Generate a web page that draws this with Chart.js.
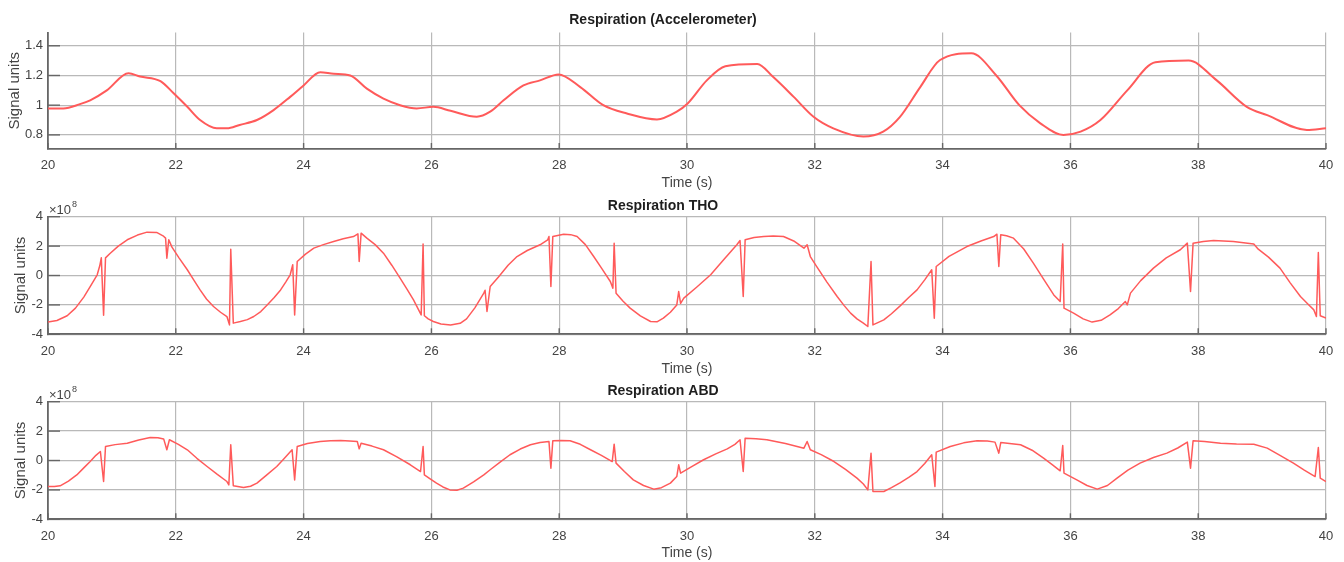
<!DOCTYPE html>
<html><head><meta charset="utf-8">
<script src="https://cdn.jsdelivr.net/npm/chart.js@4.4.1/dist/chart.umd.min.js"></script>
<style>
html,body{margin:0;padding:0;background:#fff;width:1344px;height:562px;overflow:hidden;}
canvas{position:absolute;left:0;}
</style></head><body>
<canvas id="c1" width="1344" height="192" style="top:0px"></canvas>
<canvas id="c2" width="1344" height="186" style="top:192px"></canvas>
<canvas id="c3" width="1344" height="184" style="top:378px"></canvas>
<script>
// ---------- data ----------
const xTicks = [20, 22, 24, 26, 28, 30, 32, 34, 36, 38, 40];
const accTicks = [0.8, 1, 1.2, 1.4];
const respTicks = [-4, -2, 0, 2, 4];

// Accelerometer: [time (s), signal]
const accSeries = [[20,0.978],[20.24,0.978],[20.5,1.007],[20.66,1.033],[20.92,1.1],[21.26,1.215],[21.44,1.193],[21.76,1.162],[21.97,1.078],[22.18,0.989],[22.38,0.9],[22.64,0.844],[22.8,0.844],[23.0,0.867],[23.27,0.9],[23.53,0.967],[23.79,1.056],[24.0,1.133],[24.26,1.222],[24.47,1.211],[24.73,1.2],[24.99,1.111],[25.25,1.044],[25.51,1.0],[25.77,0.978],[26.03,0.989],[26.3,0.962],[26.71,0.922],[26.92,0.956],[27.13,1.033],[27.44,1.133],[27.7,1.167],[27.99,1.207],[28.33,1.122],[28.69,1.0],[29.06,0.944],[29.53,0.904],[29.84,0.956],[30.01,1.011],[30.31,1.167],[30.6,1.262],[31.1,1.278],[31.35,1.189],[31.67,1.056],[31.98,0.922],[32.29,0.844],[32.76,0.789],[33.07,0.822],[33.33,0.92],[33.65,1.122],[33.96,1.304],[34.45,1.349],[34.84,1.2],[35.2,1.0],[35.53,0.878],[35.89,0.8],[36.16,0.822],[36.47,0.9],[36.89,1.1],[37.33,1.289],[37.85,1.3],[38.29,1.167],[38.76,0.989],[39.08,0.933],[39.7,0.833],[40,0.844]];

// THO: [time (s), signal x1e8]
const thoSeries = [[20,-3.17],[20.14,-3.06],[20.3,-2.74],[20.43,-2.22],[20.56,-1.47],[20.66,-0.75],[20.77,0.05],[20.81,0.66],[20.834,1.2],[20.87,-2.7],[20.9,1.2],[20.97,1.5],[21.1,2.0],[21.24,2.43],[21.4,2.75],[21.55,2.95],[21.7,2.93],[21.8,2.7],[21.84,2.54],[21.86,1.18],[21.89,2.43],[21.94,1.93],[22.05,1.2],[22.18,0.39],[22.28,-0.3],[22.38,-0.98],[22.48,-1.6],[22.59,-2.11],[22.7,-2.5],[22.8,-2.79],[22.84,-3.36],[22.86,1.79],[22.9,-3.24],[23.01,-3.13],[23.12,-3.0],[23.22,-2.79],[23.33,-2.45],[23.43,-2.0],[23.54,-1.5],[23.64,-0.98],[23.72,-0.45],[23.79,0.05],[23.83,0.73],[23.86,-2.68],[23.9,0.95],[24.03,1.45],[24.16,1.86],[24.31,2.1],[24.47,2.31],[24.62,2.5],[24.78,2.65],[24.85,2.83],[24.87,0.95],[24.9,2.88],[24.99,2.54],[25.12,2.1],[25.25,1.52],[25.38,0.7],[25.51,-0.18],[25.62,-0.95],[25.72,-1.66],[25.84,-2.68],[25.87,2.15],[25.89,-2.74],[25.95,-2.95],[26.03,-3.13],[26.15,-3.3],[26.3,-3.36],[26.45,-3.25],[26.55,-2.95],[26.68,-2.2],[26.82,-1.2],[26.84,-1.0],[26.87,-2.45],[26.92,-0.75],[27.05,-0.1],[27.2,0.7],[27.34,1.29],[27.5,1.7],[27.7,2.09],[27.82,2.43],[27.84,2.65],[27.87,-0.75],[27.9,2.65],[28.07,2.81],[28.18,2.78],[28.28,2.65],[28.41,2.1],[28.54,1.29],[28.67,0.45],[28.8,-0.41],[28.84,-0.86],[28.86,2.2],[28.89,-1.2],[29.0,-1.75],[29.11,-2.22],[29.27,-2.75],[29.43,-3.13],[29.53,-3.15],[29.63,-2.9],[29.74,-2.5],[29.84,-2.0],[29.87,-1.09],[29.9,-1.9],[29.95,-1.54],[30.15,-0.8],[30.37,0.05],[30.58,1.1],[30.78,2.09],[30.83,2.38],[30.88,-1.43],[30.91,2.43],[31.05,2.58],[31.2,2.65],[31.35,2.68],[31.51,2.65],[31.67,2.35],[31.83,1.86],[31.88,2.09],[31.93,1.29],[32.03,0.61],[32.19,-0.45],[32.35,-1.43],[32.46,-2.05],[32.56,-2.56],[32.66,-2.95],[32.76,-3.24],[32.83,-3.47],[32.88,0.95],[32.91,-3.36],[33.08,-3.02],[33.2,-2.6],[33.34,-2.05],[33.47,-1.5],[33.6,-0.98],[33.72,-0.3],[33.83,0.39],[33.87,-2.9],[33.9,0.61],[34.1,1.3],[34.38,1.97],[34.6,2.35],[34.8,2.65],[34.85,2.81],[34.88,0.61],[34.91,2.77],[35.0,2.7],[35.11,2.54],[35.27,1.8],[35.42,0.84],[35.58,-0.25],[35.74,-1.32],[35.84,-1.77],[35.88,2.15],[35.9,-2.22],[36.05,-2.56],[36.2,-2.95],[36.34,-3.17],[36.48,-3.05],[36.62,-2.68],[36.75,-2.25],[36.86,-1.77],[36.89,-2.0],[36.94,-1.2],[37.1,-0.35],[37.3,0.5],[37.5,1.2],[37.72,1.75],[37.83,2.2],[37.88,-1.09],[37.92,2.2],[38.08,2.32],[38.24,2.38],[38.55,2.31],[38.87,2.15],[38.94,1.79],[39.1,1.25],[39.28,0.5],[39.44,-0.5],[39.6,-1.43],[39.72,-1.95],[39.81,-2.34],[39.85,-2.79],[39.88,1.56],[39.91,-2.74],[40,-2.9]];

// ABD: [time (s), signal x1e8]
const abdSeries = [[20,-1.77],[20.1,-1.77],[20.19,-1.72],[20.32,-1.4],[20.45,-0.98],[20.56,-0.5],[20.66,-0.07],[20.75,0.35],[20.82,0.61],[20.87,-1.43],[20.9,0.95],[21.05,1.08],[21.24,1.18],[21.42,1.4],[21.6,1.56],[21.72,1.55],[21.81,1.47],[21.86,0.73],[21.9,1.41],[22.04,1.1],[22.18,0.73],[22.33,0.15],[22.49,-0.41],[22.65,-0.95],[22.8,-1.43],[22.83,-1.66],[22.86,1.07],[22.9,-1.72],[23.06,-1.84],[23.17,-1.75],[23.27,-1.54],[23.42,-1.0],[23.58,-0.41],[23.7,0.15],[23.82,0.73],[23.86,-1.32],[23.9,0.95],[24.06,1.15],[24.26,1.29],[24.42,1.35],[24.58,1.36],[24.72,1.33],[24.84,1.29],[24.87,0.79],[24.9,1.18],[25.07,0.98],[25.25,0.73],[25.46,0.25],[25.67,-0.29],[25.83,-0.75],[25.87,0.95],[25.89,-0.98],[25.98,-1.25],[26.08,-1.54],[26.18,-1.8],[26.29,-2.0],[26.4,-2.02],[26.5,-1.88],[26.66,-1.45],[26.82,-0.98],[26.92,-0.63],[27.08,-0.1],[27.23,0.39],[27.39,0.78],[27.55,1.07],[27.7,1.22],[27.84,1.29],[27.87,-0.52],[27.9,1.34],[28.03,1.36],[28.17,1.34],[28.33,1.1],[28.49,0.73],[28.66,0.35],[28.83,-0.07],[28.86,1.11],[28.89,-0.18],[29.02,-0.75],[29.16,-1.32],[29.32,-1.7],[29.48,-1.95],[29.6,-1.85],[29.74,-1.54],[29.84,-1.09],[29.87,-0.29],[29.9,-0.86],[30.08,-0.4],[30.26,0.05],[30.45,0.45],[30.63,0.79],[30.75,1.1],[30.83,1.41],[30.88,-0.75],[30.91,1.52],[31.08,1.48],[31.25,1.41],[31.54,1.15],[31.83,0.84],[31.88,1.29],[31.93,0.73],[32.1,0.4],[32.3,-0.07],[32.48,-0.6],[32.66,-1.2],[32.76,-1.6],[32.83,-2.0],[32.88,0.5],[32.91,-2.11],[33.08,-2.11],[33.2,-1.85],[33.34,-1.5],[33.47,-1.15],[33.6,-0.75],[33.72,-0.2],[33.83,0.39],[33.88,-1.77],[33.9,0.57],[34.12,0.95],[34.33,1.2],[34.54,1.34],[34.7,1.32],[34.82,1.25],[34.88,0.5],[34.91,1.22],[35.22,1.07],[35.4,0.7],[35.58,0.16],[35.72,-0.3],[35.84,-0.7],[35.88,1.02],[35.9,-0.86],[36.1,-1.32],[36.26,-1.7],[36.42,-1.95],[36.58,-1.7],[36.73,-1.2],[36.9,-0.65],[37.09,-0.18],[37.3,0.2],[37.51,0.5],[37.68,0.85],[37.83,1.25],[37.88,-0.52],[37.92,1.34],[38.1,1.3],[38.35,1.18],[38.6,1.12],[38.87,1.11],[39.08,0.84],[39.28,0.35],[39.49,-0.18],[39.66,-0.65],[39.83,-1.09],[39.88,0.88],[39.91,-1.2],[40,-1.43]];

// ---------- styling ----------
const FONT = '"Liberation Sans", Arial, Helvetica, sans-serif';
const LINE = '#ff5a5a';
const GRID = '#b9b9b9';
const AXIS = '#666666';
const TXT = '#444444';

const tickMarks = {
  id: 'tickMarks',
  beforeDatasetsDraw(chart) {
    const {ctx, chartArea: a, scales: {x, y}} = chart;
    ctx.save();
    ctx.strokeStyle = AXIS; ctx.lineWidth = 1.4;
    x.ticks.forEach(t => { const px = x.getPixelForValue(t.value); ctx.beginPath(); ctx.moveTo(px, a.bottom); ctx.lineTo(px, a.bottom - 6); ctx.stroke(); });
    y.ticks.forEach(t => { const py = y.getPixelForValue(t.value); ctx.beginPath(); ctx.moveTo(a.left, py); ctx.lineTo(a.left + 12, py); ctx.stroke(); });
    ctx.restore();
  }
};
const expLabel = {
  id: 'expLabel',
  afterDraw(chart, args, opts) {
    if (!opts || !opts.text) return;
    const {ctx, chartArea: a} = chart;
    ctx.save();
    ctx.fillStyle = TXT; ctx.textBaseline = 'alphabetic'; ctx.textAlign = 'left';
    ctx.font = '13px ' + FONT;
    ctx.fillText(opts.text, a.left + 1, a.top - 3);
    const w = ctx.measureText(opts.text).width;
    ctx.font = '9px ' + FONT;
    ctx.fillText(opts.sup, a.left + 2 + w, a.top - 10);
    ctx.restore();
  }
};

function makeChart(id, cfg) {
  const pts = cfg.series.map(p => ({x: p[0], y: p[1]}));
  return new Chart(document.getElementById(id), {
    type: 'line',
    data: { datasets: [{ data: pts, borderColor: LINE, borderWidth: cfg.lw, pointRadius: 0,
      cubicInterpolationMode: cfg.smooth ? 'monotone' : 'default', tension: 0, fill: false,
      borderJoinStyle: 'round' }] },
    plugins: [tickMarks, expLabel],
    options: {
      responsive: false, animation: false, devicePixelRatio: 1,
      layout: { padding: { left: 0, right: 18, top: 0, bottom: 0 } },
      plugins: {
        legend: { display: false }, tooltip: { enabled: false },
        title: { display: true, text: cfg.title, color: '#1e1e1e',
          font: { family: FONT, size: 14, weight: 'bold' }, padding: cfg.titlePad },
        expLabel: cfg.exp || {}
      },
      scales: {
        x: { type: 'linear', min: 20, max: 40,
          afterBuildTicks: s => { s.ticks = xTicks.map(v => ({value: v})); },
          afterFit: s => { s.height = cfg.xh; },
          grid: { color: GRID, lineWidth: 1.2, drawTicks: false },
          border: { color: AXIS, width: 1.8 },
          ticks: { color: TXT, font: { family: FONT, size: 13 }, padding: 9, maxRotation: 0, callback: v => String(v) },
          title: { display: true, text: 'Time (s)', color: TXT, font: { family: FONT, size: 14 }, padding: { top: 0, bottom: cfg.xtb } }
        },
        y: { type: 'linear', min: cfg.ymin, max: cfg.ymax,
          afterBuildTicks: s => { s.ticks = cfg.yticks.map(v => ({value: v})); },
          afterFit: s => { s.width = 48; },
          grid: { color: GRID, lineWidth: 1.2, drawTicks: false },
          border: { color: AXIS, width: 1.8 },
          ticks: { color: TXT, font: { family: FONT, size: 13 }, padding: 5, callback: v => String(v) },
          title: { display: true, text: 'Signal units', color: TXT, font: { family: FONT, size: 15 }, padding: { top: cfg.ytp, bottom: 0 } }
        }
      }
    }
  });
}

makeChart('c1', { title: 'Respiration (Accelerometer)', series: accSeries, smooth: true, lw: 2,
  ymin: 0.705, ymax: 1.49, yticks: accTicks, titlePad: { top: 11.6, bottom: 4 }, xh: 43, xtb: 0, ytp: 5.7 });
makeChart('c2', { title: 'Respiration THO', series: thoSeries, smooth: false, lw: 1.5,
  ymin: -4, ymax: 4, yticks: respTicks, titlePad: { top: 5.6, bottom: 2.3 }, xh: 43.7, xtb: 0, ytp: 11.8,
  exp: { text: '\u00d710', sup: '8' } });
makeChart('c3', { title: 'Respiration ABD', series: abdSeries, smooth: false, lw: 1.5,
  ymin: -4, ymax: 4, yticks: respTicks, titlePad: { top: 4.6, bottom: 2.3 }, xh: 42.7, xtb: 0, ytp: 11.8,
  exp: { text: '\u00d710', sup: '8' } });
</script>
</body></html>
